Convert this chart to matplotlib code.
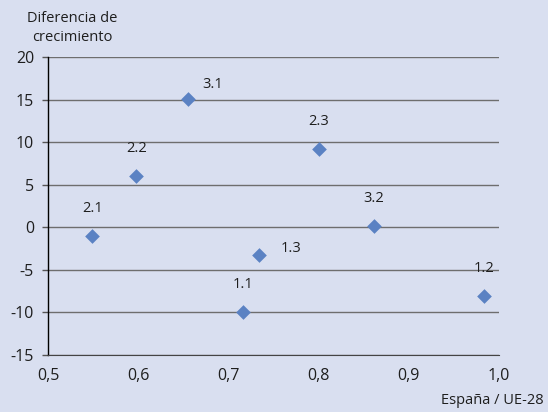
import matplotlib.pyplot as plt

# Data
labels = ["2.1", "2.2", "3.1", "2.3", "1.3", "1.1", "3.2", "1.2"]
x_vals = [0.549, 0.598, 0.655, 0.800, 0.734, 0.716, 0.861, 0.983]
y_vals = [-1.0, 6.0, 15.1, 9.2, -3.2, -10.0, 0.1, -8.1]
# label offsets in points (most labels sit above their point)
label_offsets = [(0, 20), (0, 20), (18, 10), (0, 20), (23, 4), (0, 20), (0, 20), (0, 20)]

x_ticks = [0.5, 0.6, 0.7, 0.8, 0.9, 1.0]
x_ticklabels = ["0,5", "0,6", "0,7", "0,8", "0,9", "1,0"]
y_ticks = [-15, -10, -5, 0, 5, 10, 15, 20]

bg = "#D9DFF0"
marker_color = "#5B82C3"
text_color = "#1e1e1e"

plt.rcParams["font.family"] = ["Open Sans", "DejaVu Sans"]
plt.rcParams["axes.unicode_minus"] = False

fig = plt.figure(figsize=(5.48, 4.12), dpi=100, facecolor=bg)
ax = fig.add_axes([48 / 548, 1 - 355 / 412, 451 / 548, 298 / 412])
ax.set_facecolor(bg)

ax.scatter(x_vals, y_vals, marker="D", s=56, color=marker_color, zorder=3, linewidths=0)

for lab, x, y, off in zip(labels, x_vals, y_vals, label_offsets):
    ax.annotate(lab, (x, y), xytext=off, textcoords="offset points",
                ha="center", va="center", fontsize=10.5, color=text_color)

ax.set_xlim(0.5, 1.0)
ax.set_ylim(-15, 20)
ax.set_xticks(x_ticks)
ax.set_xticklabels(x_ticklabels)
ax.set_yticks(y_ticks)

ax.grid(axis="y", color="#6e6e6e", linewidth=1.0)
ax.set_axisbelow(True)
for side in ["top", "right"]:
    ax.spines[side].set_visible(False)
ax.spines["left"].set_color("black")
ax.spines["bottom"].set_color("#444444")
ax.spines["left"].set_linewidth(1.0)

ax.tick_params(axis="y", length=4, width=1, color="#555555", labelsize=11.5,
               labelcolor=text_color, pad=6)
ax.tick_params(axis="x", length=0, labelsize=11.5, labelcolor=text_color, pad=9)

fig.text(72 / 548, 1 - 28 / 412, "Diferencia de\ncrecimiento", ha="center", va="center",
         fontsize=10.5, color=text_color, linespacing=1.35)
fig.text(544 / 548, 1 - 400 / 412, "España / UE-28", ha="right", va="center",
         fontsize=10.5, color=text_color)

fig.savefig("out.png", dpi=100, facecolor=bg)
